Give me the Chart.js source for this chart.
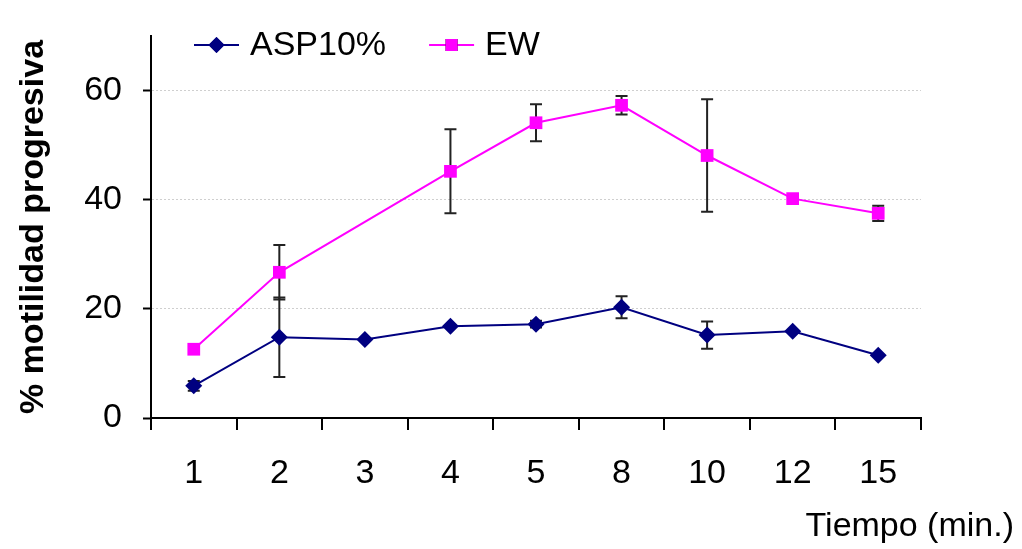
<!DOCTYPE html>
<html>
<head>
<meta charset="utf-8">
<script src="https://cdn.jsdelivr.net/npm/chart.js@4/dist/chart.umd.min.js"></script>
<style>
  html, body { margin: 0; padding: 0; background: #fff; }
  #wrap { position: relative; width: 1022px; height: 549px; }
</style>
</head>
<body>
<div id="wrap"><canvas id="myChart"></canvas></div>
<script>
// data
const categories = ["1", "2", "3", "4", "5", "8", "10", "12", "15"];
const aspValues = [5.9, 14.8, 14.4, 16.8, 17.2, 20.3, 15.2, 15.9, 11.5];
const aspErrors = [0.9, 7.3, 0, 0, 0.6, 2.0, 2.5, 0, 0];
const ewValues = [12.6, 26.7, null, 45.2, 54.1, 57.3, 48.1, 40.2, 37.5];
const ewErrors = [0, 5.0, null, 7.7, 3.4, 1.7, 10.3, 0, 1.4];
const yTicks = [0, 20, 40, 60];

const FONT = "'Liberation Sans', Arial, sans-serif";

// error bars drawn behind the markers
const errorBars = {
  id: "errorBars",
  beforeDatasetsDraw(chart) {
    const ctx = chart.ctx;
    const y = chart.scales.y;
    ctx.save();
    ctx.strokeStyle = "#222";
    ctx.lineWidth = 2;
    chart.data.datasets.forEach((ds, di) => {
      const meta = chart.getDatasetMeta(di);
      ds.errors.forEach((e, i) => {
        const v = ds.data[i];
        if (v == null || !e) return;
        const px = meta.data[i].x;
        const top = y.getPixelForValue(v + e);
        const bot = y.getPixelForValue(v - e);
        ctx.beginPath();
        ctx.moveTo(px, top); ctx.lineTo(px, bot);
        ctx.moveTo(px - 6, top); ctx.lineTo(px + 6, top);
        ctx.moveTo(px - 6, bot); ctx.lineTo(px + 6, bot);
        ctx.stroke();
      });
    });
    ctx.restore();
  },
};

// legend sitting inside the plot, line + marker like the original
const insideLegend = {
  id: "insideLegend",
  afterDraw(chart) {
    const ctx = chart.ctx;
    let x = chart.chartArea.left + 43;
    const yy = 45;
    ctx.save();
    ctx.font = "34px " + FONT;
    ctx.textBaseline = "middle";
    chart.data.datasets.forEach((ds) => {
      ctx.strokeStyle = ds.borderColor;
      ctx.lineWidth = 2;
      ctx.beginPath();
      ctx.moveTo(x, yy); ctx.lineTo(x + 45, yy);
      ctx.stroke();
      Chart.helpers.drawPoint(ctx, {
        pointStyle: ds.pointStyle,
        radius: ds.legendRadius,
        rotation: 0,
        borderWidth: 0,
      }, x + 22.5, yy);
      ctx.fillStyle = ds.borderColor;
      ctx.fill();
      ctx.fillStyle = "#000";
      ctx.fillText(ds.label, x + 56, yy + 1);
      x += 56 + ctx.measureText(ds.label).width + 43;
    });
    ctx.restore();
  },
};

const xTitle = {
  id: "xTitle",
  afterDraw(chart) {
    const ctx = chart.ctx;
    ctx.save();
    ctx.font = "34px " + FONT;
    ctx.fillStyle = "#000";
    ctx.textAlign = "right";
    ctx.textBaseline = "middle";
    ctx.fillText("Tiempo (min.)", chart.width - 8, 527);
    ctx.restore();
  },
};

const data = {
  labels: categories,
  datasets: [
    {
      label: "ASP10%",
      data: aspValues,
      errors: aspErrors,
      borderColor: "#000080",
      backgroundColor: "#000080",
      borderWidth: 2,
      pointStyle: "rectRot",
      pointRadius: 8.5,
      legendRadius: 8,
      pointBorderWidth: 0,
      tension: 0,
      clip: false,
    },
    {
      label: "EW",
      data: ewValues,
      errors: ewErrors,
      borderColor: "#ff00ff",
      backgroundColor: "#ff00ff",
      borderWidth: 2,
      pointStyle: "rect",
      pointRadius: 9,
      legendRadius: 8.5,
      pointBorderWidth: 0,
      spanGaps: true,
      tension: 0,
      clip: false,
    },
  ],
};

const config = {
  type: "line",
  data: data,
  plugins: [errorBars, insideLegend, xTitle],
  options: {
    responsive: true,
    maintainAspectRatio: false,
    animation: false,
    layout: { padding: { top: 36, right: 101, left: 0, bottom: 0 } },
    plugins: {
      legend: { display: false },
      tooltip: { enabled: false },
    },
    scales: {
      x: {
        offset: true,
        grid: {
          offset: true,
          drawOnChartArea: false,
          tickLength: 12,
          tickColor: "#000",
          lineWidth: 2,
        },
        border: { color: "#000", width: 2 },
        ticks: {
          color: "#000",
          font: { family: FONT, size: 34 },
          padding: 23,
          maxRotation: 0,
        },
        afterFit: (s) => { s.height = 131; },
      },
      y: {
        min: 0,
        max: 70,
        afterBuildTicks: (s) => {
          s.ticks = yTicks.map((v) => ({ value: v }));
        },
        grid: {
          color: (c) => (c.tick && c.tick.value === 0 ? "rgba(0,0,0,0)" : "#cfcfcf"),
          lineWidth: 1,
          tickLength: 8,
          tickWidth: 2,
          tickColor: "#000",
        },
        border: { color: "#000", width: 2, dash: [2, 2] },
        ticks: {
          color: "#000",
          font: { family: FONT, size: 34 },
          padding: 21,
        },
        title: {
          display: true,
          text: "% motilidad progresiva",
          color: "#000",
          font: { family: FONT, size: 34, weight: "bold" },
          padding: { top: 13, bottom: 0 },
        },
        afterFit: (s) => {
          s.width = 151;
          s.paddingTop = 0;
          s.paddingBottom = 0;
        },
      },
    },
  },
};

new Chart(document.getElementById("myChart"), config);
</script>
</body>
</html>
